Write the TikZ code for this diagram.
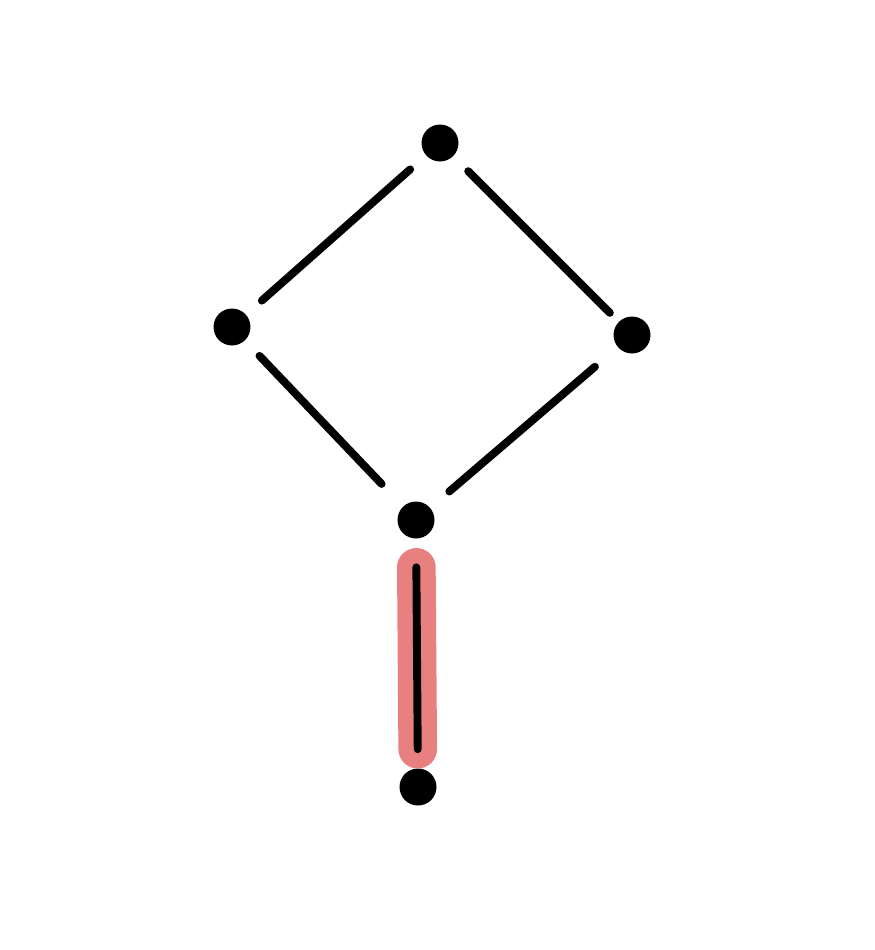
\documentclass[tikz,border=0pt]{standalone}
\usepackage{tikz}
\usetikzlibrary{positioning}
\definecolor{hlRed}{HTML}{E88080}

\begin{document}
\begin{tikzpicture}[
  x=0.02cm, y=-0.02cm,
  vtx/.style={circle, fill=black, inner sep=0pt, minimum size=0.74cm},
  edge/.style={line width=4.5pt, line cap=round, shorten >=0.42cm, shorten <=0.42cm},
  hilite/.style={line width=22pt, line cap=round, hlRed, shorten >=0.38cm, shorten <=0.57cm}
]
  \useasboundingbox (0,0) rectangle (875,950);

  \node[vtx] (top) at (440,143) {};
  \node[vtx] (lft) at (232,327) {};
  \node[vtx] (rgt) at (632,335) {};
  \node[vtx] (mid) at (416,520) {};
  \node[vtx] (bot) at (418,787) {};

  \draw[hilite] (mid) -- (bot);

  \draw[edge] (top) -- (lft);
  \draw[edge, shorten >=0.25cm] (top) -- (rgt);
  \draw[edge, shorten >=0.62cm] (lft) -- (mid);
  \draw[edge, shorten >=0.5cm, shorten <=0.6cm] (rgt) -- (mid);
  \draw[edge, shorten <=0.57cm, shorten >=0.38cm] (mid) -- (bot);
\end{tikzpicture}
\end{document}
